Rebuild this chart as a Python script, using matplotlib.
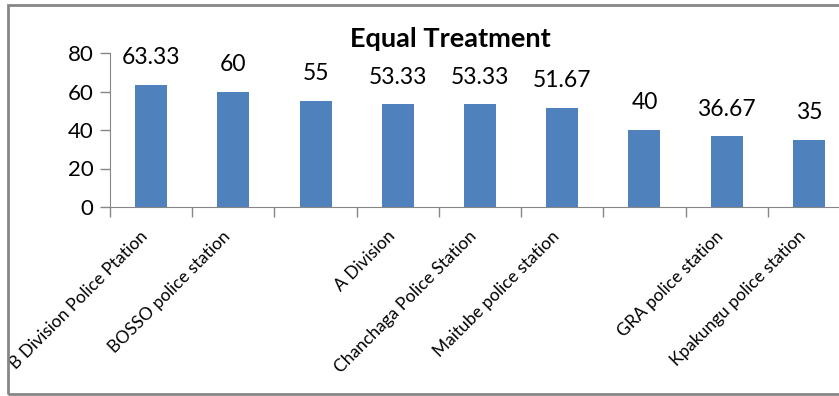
import matplotlib.pyplot as plt
from matplotlib.patches import Rectangle

stations = ["B Division Police Ptation", "BOSSO police station", "",
            "A Division", "Chanchaga Police Station", "Maitube police station",
            "", "GRA police station", "Kpakungu police station"]
scores = [63.33, 60, 55, 53.33, 53.33, 51.67, 40, 36.67, 35]
score_labels = ["63.33", "60", "55", "53.33", "53.33", "51.67", "40", "36.67", "35"]

plt.rcParams["font.family"] = ["Lato", "DejaVu Sans"]
gray = "#868686"

fig = plt.figure(figsize=(8.39, 3.96), dpi=100)
ax = fig.add_axes([110 / 839, 189 / 396, 740 / 839, 154 / 396])

x = list(range(len(scores)))
ax.bar(x, scores, width=0.39, color="#4F81BD")
for xi, v, lab in zip(x, scores, score_labels):
    ax.annotate(lab, (xi, v), xytext=(0, 12), textcoords="offset points",
                ha="center", va="bottom", fontsize=16.5)

ax.set_xlim(-0.5, len(scores) - 0.5)
ax.set_ylim(0, 80)
ax.set_yticks([0, 20, 40, 60, 80])
ax.tick_params(axis="y", labelsize=16, length=7, color=gray, width=1, pad=5)

ax.set_xticks(x)
ax.set_xticklabels(stations, rotation=45, ha="right", va="top", fontsize=12.5)
ax.tick_params(axis="x", which="major", length=0, pad=15)
ax.set_xticks([i - 0.5 for i in range(len(scores))], minor=True)
ax.tick_params(axis="x", which="minor", length=7, color=gray, width=1)

for side in ["top", "right"]:
    ax.spines[side].set_visible(False)
for side in ["left", "bottom"]:
    ax.spines[side].set_color(gray)

fig.text(450 / 839, 1 - 39 / 396, "Equal Treatment", ha="center", va="center",
         fontsize=19.5, fontweight="bold")

fig.patches.append(Rectangle((8 / 839, 2 / 396), 1.2, 389 / 396,
                             transform=fig.transFigure, fill=False,
                             edgecolor=gray, linewidth=2))

plt.savefig("out.png", dpi=100)
